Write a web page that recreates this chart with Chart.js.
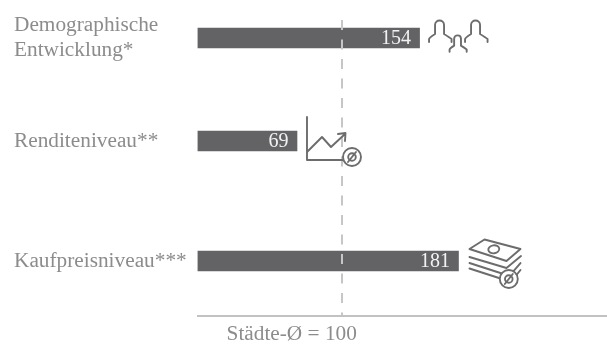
<!DOCTYPE html>
<html>
<head>
<meta charset="utf-8">
<style>
html, body { margin: 0; padding: 0; background: #fff; }
canvas { display: block; }
</style>
<script src="https://cdn.jsdelivr.net/npm/chart.js@4/dist/chart.umd.js"></script>
</head>
<body>
<canvas id="indexChart" width="607" height="344"></canvas>
<script>
const categories = [['Demographische', 'Entwicklung*'], 'Renditeniveau**', 'Kaufpreisniveau***'];
const indexValues = [154, 69, 181];
const referenceValue = 100;
const referenceLabel = 'Städte-Ø = 100';

const serif = '"Liberation Serif", "Times New Roman", serif';
const iconColor = '#6c6c6e';

// rows are not evenly spaced in the picture, so the category scale takes them from an option
class RowScale extends Chart.CategoryScale {
    getPixelForValue(value) {
        return this.top + this.options.rowAt[value] * this.height;
    }
}
RowScale.id = 'rowCategory';
RowScale.defaults = Chart.CategoryScale.defaults;
Chart.register(RowScale);

function averageBadge(ctx, x, y) {
    ctx.fillStyle = '#fff';
    ctx.beginPath();
    ctx.arc(x, y, 9, 0, Math.PI * 2);
    ctx.fill();
    ctx.stroke();
    ctx.beginPath();
    ctx.arc(x, y, 3.8, 0, Math.PI * 2);
    ctx.moveTo(x - 4, y + 5);
    ctx.lineTo(x + 4, y - 5);
    ctx.stroke();
}

function person(ctx, cx, top, s) {
    ctx.beginPath();
    ctx.moveTo(cx - 10.5 * s, top + 22 * s);
    ctx.lineTo(cx - 10.5 * s, top + 19 * s);
    ctx.quadraticCurveTo(cx - 10 * s, top + 17.5 * s, cx - 4.5 * s, top + 14 * s);
    ctx.lineTo(cx - 4.5 * s, top + 5 * s);
    ctx.bezierCurveTo(cx - 4.5 * s, top - 1 * s, cx + 4.5 * s, top - 1 * s, cx + 4.5 * s, top + 5 * s);
    ctx.lineTo(cx + 4.5 * s, top + 14 * s);
    ctx.quadraticCurveTo(cx + 10 * s, top + 17.5 * s, cx + 12 * s, top + 19 * s);
    ctx.lineTo(cx + 12 * s, top + 22 * s);
    ctx.stroke();
}

function peopleIcon(ctx) {
    person(ctx, 20, -18, 1);
    person(ctx, 56, -18, 1);
    person(ctx, 38, -3, 0.76);
}

function trendIcon(ctx) {
    ctx.beginPath();
    ctx.moveTo(10, -24);
    ctx.lineTo(10, 19);
    ctx.lineTo(46, 19);
    ctx.moveTo(10, 11);
    ctx.lineTo(25, -4);
    ctx.lineTo(34, 6);
    ctx.lineTo(48, -7);
    ctx.moveTo(41, -7);
    ctx.lineTo(48.5, -8);
    ctx.lineTo(48, 0);
    ctx.stroke();
    averageBadge(ctx, 55, 16);
}

function moneyIcon(ctx) {
    ctx.beginPath();
    ctx.moveTo(11, -12);
    ctx.lineTo(26, -21.5);
    ctx.lineTo(62, -12);
    ctx.lineTo(48, 0);
    ctx.closePath();
    ctx.moveTo(11, -4);
    ctx.lineTo(48, 7);
    ctx.lineTo(62.5, -5);
    ctx.moveTo(11, 2);
    ctx.lineTo(45, 13);
    ctx.moveTo(55, 10);
    ctx.lineTo(62, 2);
    ctx.moveTo(11, 7.5);
    ctx.lineTo(42, 17.5);
    ctx.moveTo(58, 14);
    ctx.lineTo(62, 9);
    ctx.stroke();
    ctx.beginPath();
    ctx.ellipse(35.3, -11.7, 5.5, 4, -0.15, 0, Math.PI * 2);
    ctx.stroke();
    averageBadge(ctx, 50.3, 18);
}

const barIcons = [peopleIcon, trendIcon, moneyIcon];

const barDecorations = {
    id: 'barDecorations',
    afterDraw(chart) {
        const ctx = chart.ctx;
        chart.getDatasetMeta(0).data.forEach((bar, i) => {
            ctx.save();
            ctx.font = '20px ' + serif;
            ctx.fillStyle = '#f2f2f2';
            ctx.textAlign = 'right';
            ctx.textBaseline = 'middle';
            ctx.fillText(indexValues[i], bar.x - 8.5, bar.y + 1);
            ctx.translate(bar.x, bar.y);
            ctx.strokeStyle = iconColor;
            ctx.lineWidth = 1.9;
            ctx.lineJoin = 'round';
            ctx.lineCap = 'round';
            barIcons[i](ctx);
            ctx.restore();
        });
    }
};

new Chart(document.getElementById('indexChart').getContext('2d'), {
    type: 'bar',
    data: {
        labels: categories,
        datasets: [{
            data: indexValues,
            backgroundColor: '#636365',
            barThickness: 20
        }]
    },
    options: {
        indexAxis: 'y',
        responsive: false,
        animation: false,
        layout: { padding: { top: 20, left: 14, right: 0, bottom: 0 } },
        plugins: { legend: { display: false }, tooltip: { enabled: false } },
        scales: {
            x: {
                min: 0,
                max: 284,
                afterBuildTicks: axis => { axis.ticks = [{ value: referenceValue }]; },
                afterFit: axis => { axis.height = 28; },
                ticks: {
                    callback: () => referenceLabel,
                    color: '#8c8c8c',
                    font: { family: serif, size: 21.3 },
                    labelOffset: -50,
                    padding: 6,
                    maxRotation: 0
                },
                grid: { color: '#c6c6c6', lineWidth: 2, z: 1, drawTicks: false },
                border: { color: '#c2c2c4', width: 2, dash: [10, 9.5], z: 1 }
            },
            y: {
                type: 'rowCategory',
                rowAt: [0.0608, 0.4088, 0.8142],
                afterFit: axis => { axis.width = 183.5; },
                ticks: {
                    color: '#8c8c8c',
                    crossAlign: 'far',
                    padding: 0,
                    font: { family: serif, size: 21.3, lineHeight: 1.2 }
                },
                grid: { display: false },
                border: { display: false }
            }
        }
    },
    plugins: [barDecorations]
});
</script>
</body>
</html>
